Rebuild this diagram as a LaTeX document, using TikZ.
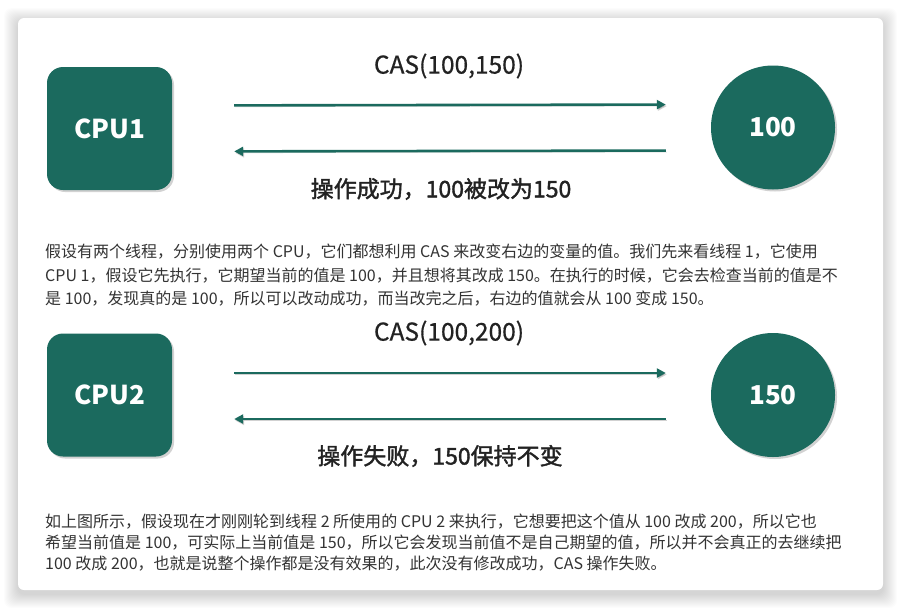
\documentclass[tikz,border=0pt]{standalone}
\usepackage{fontspec}
\setmainfont{Noto Sans CJK SC}
\newfontfamily\medfont{Noto Sans CJK SC}[FakeBold=0.6]
\newfontfamily\semifont{Noto Sans CJK SC}[FakeBold=1.6]
\usetikzlibrary{arrows.meta,shadows,calc}
\definecolor{teal1}{HTML}{1B6A5E}
\definecolor{txt}{HTML}{333333}
\definecolor{lbltxt}{HTML}{222222}
\begin{document}
\begin{tikzpicture}[x=1pt,y=-1pt,
  cpubox/.style={fill=teal1, rounded corners=16pt, minimum width=125pt, minimum height=123pt,
    inner sep=0pt, text=white, font=\bfseries\fontsize{26}{30}\selectfont,
    drop shadow={opacity=0.35,shadow xshift=2pt,shadow yshift=-2pt}},
  valcirc/.style={circle, fill=teal1, minimum size=124pt, inner sep=0pt, text=white,
    font=\bfseries\fontsize{26}{30}\selectfont,
    drop shadow={opacity=0.35,shadow xshift=2pt,shadow yshift=-2pt}},
  arr/.style={draw=teal1, line width=2.6pt, -{Triangle[length=9pt,width=9pt]},
    preaction={draw=black, opacity=0.18, transform canvas={shift={(1pt,-1.5pt)}}}},
  lbl/.style={font=\medfont\fontsize{24.5}{28}\selectfont, text=lbltxt, inner sep=0pt},
  lblb/.style={font=\semifont\fontsize{23}{27}\selectfont, text=lbltxt, inner sep=0pt},
  para/.style={anchor=west, inner sep=0pt, font=\fontsize{16}{20}\selectfont, text=txt}
]
\useasboundingbox (0,0) rectangle (901,608);
\fill[white] (0,0) rectangle (901,608);
% card shadow
\foreach \i in {1,...,14}{
  \fill[black, opacity=0.012, rounded corners=8pt] (18-\i,18-\i+4) rectangle (883+\i,590+\i+4);
}
\node[draw=none, fill=white, rounded corners=6pt, minimum width=865pt, minimum height=572pt, inner sep=0pt] (card) at (450.5,304) {};

% first diagram
\node[cpubox] (cpu1) at (109.5,128.5) {CPU1};
\node[valcirc] (v1) at (773,127.5) {100};
\draw[arr, shorten <=62pt, shorten >=45pt] ([yshift=23pt]cpu1.east) -- ([yshift=23pt]v1.west);
\draw[arr, shorten <=45pt, shorten >=62pt] ([yshift=-23pt]v1.west) -- ([yshift=-23pt]cpu1.east);
\node[lbl] (cas1) at (449,66) {CAS(100,150)};
\node[lblb] (res1) at (441,189) {操作成功，100被改为150};

\node[para] (p1a) at (45,252) {假设有两个线程，分别使用两个 CPU，它们都想利用 CAS 来改变右边的变量的值。我们先来看线程 1，它使用};
\node[para] (p1b) at (45,275.5) {CPU 1，假设它先执行，它期望当前的值是 100，并且想将其改成 150。在执行的时候，它会去检查当前的值是不};
\node[para] (p1c) at (45,298.5) {是 100，发现真的是 100，所以可以改动成功，而当改完之后，右边的值就会从 100 变成 150。};

% second diagram
\node[cpubox] (cpu2) at (109.5,395) {CPU2};
\node[valcirc] (v2) at (773,395) {150};
\draw[arr, shorten <=62pt, shorten >=45pt] ([yshift=22pt]cpu2.east) -- ([yshift=22pt]v2.west);
\draw[arr, shorten <=45pt, shorten >=62pt] ([yshift=-24pt]v2.west) -- ([yshift=-24pt]cpu2.east);
\node[lbl] (cas2) at (449,333) {CAS(100,200)};
\node[lblb] (res2) at (440,456) {操作失败，150保持不变};

\node[para] (p2a) at (45,521.5) {如上图所示，假设现在才刚刚轮到线程 2 所使用的 CPU 2 来执行，它想要把这个值从 100 改成 200，所以它也};
\node[para] (p2b) at (45,543) {希望当前值是 100，可实际上当前值是 150，所以它会发现当前值不是自己期望的值，所以并不会真正的去继续把};
\node[para] (p2c) at (45,564) {100 改成 200，也就是说整个操作都是没有效果的，此次没有修改成功，CAS 操作失败。};
\end{tikzpicture}
\end{document}
